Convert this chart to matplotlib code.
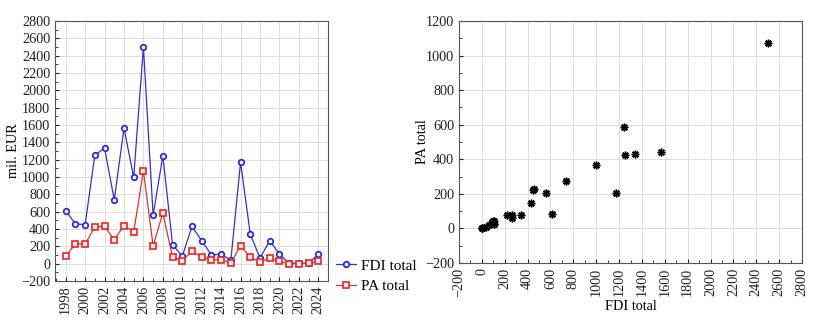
import matplotlib.pyplot as plt
from matplotlib.ticker import MultipleLocator

years = list(range(1998, 2025))
fdi = [610, 460, 450, 1250, 1335, 735, 1565, 995, 2500, 560, 1245, 220, 85, 430,
       265, 100, 110, 40, 1170, 340, 65, 265, 110, 5, 5, 5, 110]
pa = [85, 230, 225, 425, 430, 275, 440, 365, 1070, 205, 585, 75, 35, 145,
      75, 45, 45, 10, 205, 75, 20, 60, 25, 0, 0, 5, 25]

plt.rcParams['font.family'] = ['Liberation Serif', 'DejaVu Serif']
plt.rcParams['font.size'] = 10.3

fig = plt.figure(figsize=(8.21, 3.25), dpi=100)
W, H = 821, 325

def box(x0, y0, x1, y1):
    return [x0 / W, 1 - y1 / H, (x1 - x0) / W, (y1 - y0) / H]

grid_kw = dict(color='#dcdcdc', linewidth=0.7)

# left: time series
ax1 = fig.add_axes(box(55, 21, 328, 281))
l1, = ax1.plot(years, fdi, color='#3333cc', linewidth=0.9, marker='o', markersize=4,
               markerfacecolor='#f0f0ff', markeredgecolor='#2222dd', markeredgewidth=1.2,
               label='FDI total')
l2, = ax1.plot(years, pa, color='#dd3333', linewidth=0.9, marker='s', markersize=4,
               markerfacecolor='#fff0f0', markeredgecolor='#ee2222', markeredgewidth=1.2,
               label='PA total')
ax1.set_xlim(1996.9, 2025.0)
ax1.set_ylim(-200, 2800)
ax1.set_xticks(range(1998, 2025, 2))
ax1.xaxis.set_minor_locator(MultipleLocator(1))
ax1.yaxis.set_major_locator(MultipleLocator(200))
ax1.yaxis.set_minor_locator(MultipleLocator(100))
ax1.tick_params(axis='x', labelrotation=90)
ax1.grid(True, **grid_kw)
ax1.set_axisbelow(True)
ax1.set_ylabel('mil. EUR', labelpad=1)

fig.legend(handles=[l1, l2], loc='upper left', bbox_to_anchor=(336 / W, 1 - 259 / H),
           frameon=False, handlelength=1.3, handletextpad=0.35, borderaxespad=0,
           borderpad=0, labelspacing=0.45, fontsize=11)

# right: scatter
ax2 = fig.add_axes(box(459, 21, 802, 263))
ax2.plot(fdi, pa, linestyle='none', marker=(8, 2, 0), markersize=5.5,
         markeredgewidth=1.1, color='black')
ax2.set_xlim(-200, 2800)
ax2.set_ylim(-200, 1200)
ax2.xaxis.set_major_locator(MultipleLocator(200))
ax2.xaxis.set_minor_locator(MultipleLocator(100))
ax2.yaxis.set_major_locator(MultipleLocator(200))
ax2.yaxis.set_minor_locator(MultipleLocator(100))
ax2.tick_params(axis='x', labelrotation=90)
ax2.grid(True, **grid_kw)
ax2.set_axisbelow(True)
ax2.set_xlabel('FDI total', labelpad=2)
ax2.set_ylabel('PA total', labelpad=-3)

for ax in (ax1, ax2):
    for s in ax.spines.values():
        s.set_color('#555555')
    ax.tick_params(which='both', direction='in', colors='#222222', length=3)
    ax.tick_params(which='minor', length=2)

fig.savefig('out.png', dpi=100)
